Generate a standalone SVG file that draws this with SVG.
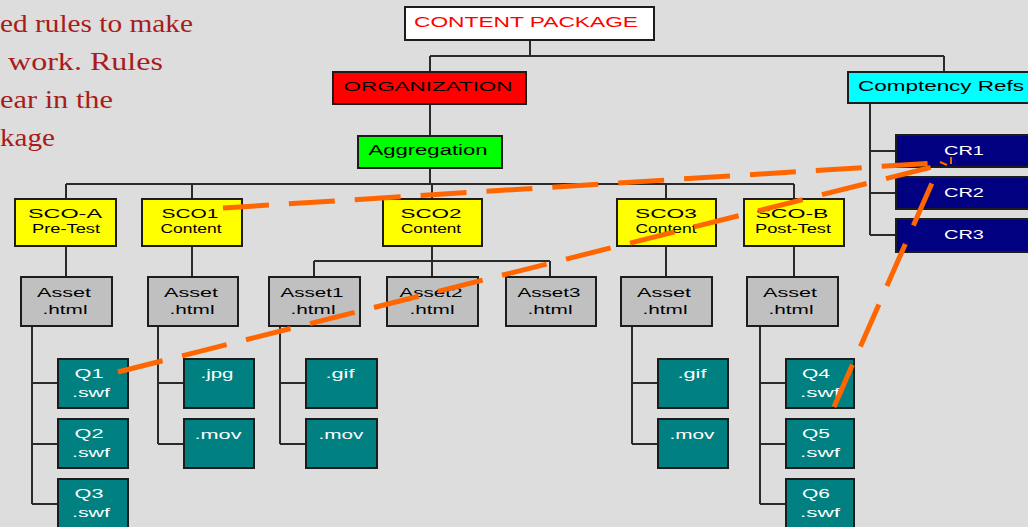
<svg xmlns="http://www.w3.org/2000/svg" width="1028" height="527" viewBox="0 0 1028 527">
  <style>
    .box { stroke: #1c1c1c; stroke-width: 2; }
    .wire { stroke: #2a2a2a; stroke-width: 2; fill: none; }
    .link { stroke: #ff6600; stroke-width: 5; stroke-dasharray: 46 20; fill: none; }
    .t { font-family: "Liberation Sans", Arial, sans-serif; text-anchor: middle; }
    .dark { fill: #000; }
    .light { fill: #fff; }
    .note { font-family: "Liberation Serif", "Times New Roman", serif; font-size: 26px; fill: #a81c1c; }
    .yellow { fill: #ffff00; }
    .grey { fill: #c0c0c0; }
    .teal { fill: #008080; }
    .navy { fill: #000080; }
  </style>

  <rect width="1028" height="527" fill="#dddddd"/>

  <!-- notes text, partly off the left edge -->
  <g id="notes" class="note">
    <text x="0" y="32" textLength="193" lengthAdjust="spacingAndGlyphs">ed rules to make</text>
    <text x="8" y="70" textLength="155" lengthAdjust="spacingAndGlyphs">work.  Rules</text>
    <text x="0" y="108" textLength="113" lengthAdjust="spacingAndGlyphs">ear in the</text>
    <text x="0" y="146" textLength="55" lengthAdjust="spacingAndGlyphs">kage</text>
  </g>

  <!-- tree connectors -->
  <g id="connectors" class="wire">
    <path d="M530,40 V56 M430,56 H944 M430,56 V72 M944,56 V72"/>
    <path d="M430,104 V136"/>
    <path d="M430,168 V184 M66,184 H794 M66,184 V199 M192,184 V199 M432,184 V199 M666,184 V199 M794,184 V199"/>
    <path d="M66,246 V277 M192,246 V277 M432,246 V277 M314,261 H550 M314,261 V277 M550,261 V277 M666,246 V277 M794,246 V277"/>
    <path d="M32,326 V504 M32,383 H58 M32,444 H58 M32,504 H58"/>
    <path d="M158,326 V444 M158,383 H184 M158,444 H184"/>
    <path d="M280,326 V444 M280,383 H306 M280,444 H306"/>
    <path d="M632,326 V444 M632,383 H658 M632,444 H658"/>
    <path d="M760,326 V504 M760,383 H786 M760,444 H786 M760,504 H786"/>
    <path d="M870,103 V235 M870,151 H896 M870,193 H896 M870,235 H896"/>
  </g>

  <g id="content-package">
    <rect class="box" x="405" y="7" width="249" height="33" fill="#fff"/>
    <text class="t" x="526" y="27" font-size="14" fill="#ff0000" textLength="224" lengthAdjust="spacingAndGlyphs">CONTENT PACKAGE</text>
  </g>
  <g id="organization">
    <rect class="box" x="333" y="72" width="193" height="32" fill="#ff0000"/>
    <text class="t dark" x="428" y="91" font-size="13" textLength="169" lengthAdjust="spacingAndGlyphs">ORGANIZATION</text>
  </g>
  <g id="aggregation">
    <rect class="box" x="358" y="136" width="144" height="32" fill="#00ff00"/>
    <text class="t dark" x="428" y="155" font-size="14" textLength="119" lengthAdjust="spacingAndGlyphs">Aggregation</text>
  </g>
  <g id="competency-refs">
    <rect class="box" x="848" y="72" width="200" height="31" fill="#00ffff"/>
    <text class="dark" x="858" y="91" font-family="Liberation Sans, Arial, sans-serif" font-size="14" textLength="166" lengthAdjust="spacingAndGlyphs">Comptency Refs</text>
  </g>
  <g id="cr1">
    <rect class="box navy" x="896" y="135" width="150" height="32"/>
    <text class="t light" x="964" y="155" font-size="13" textLength="40" lengthAdjust="spacingAndGlyphs">CR1</text>
  </g>
  <g id="cr2">
    <rect class="box navy" x="896" y="177" width="150" height="32"/>
    <text class="t light" x="964" y="197" font-size="13" textLength="40" lengthAdjust="spacingAndGlyphs">CR2</text>
  </g>
  <g id="cr3">
    <rect class="box navy" x="896" y="219" width="150" height="33"/>
    <text class="t light" x="964" y="239" font-size="13" textLength="40" lengthAdjust="spacingAndGlyphs">CR3</text>
  </g>

  <!-- SCOs -->
  <g id="sco-a">
    <rect class="box yellow" x="15" y="199" width="101" height="47"/>
    <text class="t dark" x="65" y="218" font-size="12" textLength="74" lengthAdjust="spacingAndGlyphs">SCO-A</text>
    <text class="t dark" x="66" y="233" font-size="12" textLength="68" lengthAdjust="spacingAndGlyphs">Pre-Test</text>
  </g>
  <g id="sco1">
    <rect class="box yellow" x="142" y="199" width="100" height="47"/>
    <text class="t dark" x="190" y="218" font-size="12" textLength="57" lengthAdjust="spacingAndGlyphs">SCO1</text>
    <text class="t dark" x="191" y="233" font-size="12" textLength="61" lengthAdjust="spacingAndGlyphs">Content</text>
  </g>
  <g id="sco2">
    <rect class="box yellow" x="383" y="199" width="99" height="47"/>
    <text class="t dark" x="431" y="218" font-size="12" textLength="61" lengthAdjust="spacingAndGlyphs">SCO2</text>
    <text class="t dark" x="431" y="233" font-size="12" textLength="60" lengthAdjust="spacingAndGlyphs">Content</text>
  </g>
  <g id="sco3">
    <rect class="box yellow" x="617" y="199" width="99" height="47"/>
    <text class="t dark" x="666" y="218" font-size="12" textLength="62" lengthAdjust="spacingAndGlyphs">SCO3</text>
    <text class="t dark" x="666" y="233" font-size="12" textLength="61" lengthAdjust="spacingAndGlyphs">Content</text>
  </g>
  <g id="sco-b">
    <rect class="box yellow" x="744" y="199" width="100" height="47"/>
    <text class="t dark" x="792" y="218" font-size="12" textLength="73" lengthAdjust="spacingAndGlyphs">SCO-B</text>
    <text class="t dark" x="793" y="233" font-size="12" textLength="76" lengthAdjust="spacingAndGlyphs">Post-Test</text>
  </g>

  <!-- assets -->
  <g id="asset-a">
    <rect class="box grey" x="21" y="277" width="91" height="49"/>
    <text class="t dark" x="64" y="297" font-size="13" textLength="54" lengthAdjust="spacingAndGlyphs">Asset</text>
    <text class="t dark" x="65" y="314" font-size="13" textLength="45" lengthAdjust="spacingAndGlyphs">.html</text>
  </g>
  <g id="asset-sco1">
    <rect class="box grey" x="148" y="277" width="90" height="49"/>
    <text class="t dark" x="191" y="297" font-size="13" textLength="54" lengthAdjust="spacingAndGlyphs">Asset</text>
    <text class="t dark" x="192" y="314" font-size="13" textLength="45" lengthAdjust="spacingAndGlyphs">.html</text>
  </g>
  <g id="asset1">
    <rect class="box grey" x="269" y="277" width="91" height="49"/>
    <text class="t dark" x="312" y="297" font-size="13" textLength="63" lengthAdjust="spacingAndGlyphs">Asset1</text>
    <text class="t dark" x="313" y="314" font-size="13" textLength="45" lengthAdjust="spacingAndGlyphs">.html</text>
  </g>
  <g id="asset2">
    <rect class="box grey" x="387" y="277" width="91" height="49"/>
    <text class="t dark" x="431" y="297" font-size="13" textLength="63" lengthAdjust="spacingAndGlyphs">Asset2</text>
    <text class="t dark" x="432" y="314" font-size="13" textLength="45" lengthAdjust="spacingAndGlyphs">.html</text>
  </g>
  <g id="asset3">
    <rect class="box grey" x="506" y="277" width="90" height="49"/>
    <text class="t dark" x="549" y="297" font-size="13" textLength="63" lengthAdjust="spacingAndGlyphs">Asset3</text>
    <text class="t dark" x="550" y="314" font-size="13" textLength="45" lengthAdjust="spacingAndGlyphs">.html</text>
  </g>
  <g id="asset-sco3">
    <rect class="box grey" x="621" y="277" width="91" height="49"/>
    <text class="t dark" x="664" y="297" font-size="13" textLength="54" lengthAdjust="spacingAndGlyphs">Asset</text>
    <text class="t dark" x="665" y="314" font-size="13" textLength="45" lengthAdjust="spacingAndGlyphs">.html</text>
  </g>
  <g id="asset-b">
    <rect class="box grey" x="747" y="277" width="91" height="49"/>
    <text class="t dark" x="790" y="297" font-size="13" textLength="54" lengthAdjust="spacingAndGlyphs">Asset</text>
    <text class="t dark" x="791" y="314" font-size="13" textLength="45" lengthAdjust="spacingAndGlyphs">.html</text>
  </g>

  <!-- media files -->
  <g id="q1">
    <rect class="box teal" x="58" y="359" width="70" height="49"/>
    <text class="t light" x="89" y="378" font-size="12" textLength="29" lengthAdjust="spacingAndGlyphs">Q1</text>
    <text class="t light" x="91" y="397" font-size="12" textLength="38" lengthAdjust="spacingAndGlyphs">.swf</text>
  </g>
  <g id="q2">
    <rect class="box teal" x="58" y="419" width="70" height="49"/>
    <text class="t light" x="89" y="438" font-size="12" textLength="29" lengthAdjust="spacingAndGlyphs">Q2</text>
    <text class="t light" x="91" y="457" font-size="12" textLength="38" lengthAdjust="spacingAndGlyphs">.swf</text>
  </g>
  <g id="q3">
    <rect class="box teal" x="58" y="479" width="70" height="52"/>
    <text class="t light" x="89" y="498" font-size="12" textLength="29" lengthAdjust="spacingAndGlyphs">Q3</text>
    <text class="t light" x="91" y="517" font-size="12" textLength="38" lengthAdjust="spacingAndGlyphs">.swf</text>
  </g>
  <g id="jpg">
    <rect class="box teal" x="184" y="359" width="70" height="49"/>
    <text class="t light" x="217" y="378" font-size="12" textLength="33" lengthAdjust="spacingAndGlyphs">.jpg</text>
  </g>
  <g id="mov-sco1">
    <rect class="box teal" x="184" y="419" width="70" height="49"/>
    <text class="t light" x="218" y="439" font-size="12" textLength="47" lengthAdjust="spacingAndGlyphs">.mov</text>
  </g>
  <g id="gif-asset1">
    <rect class="box teal" x="306" y="359" width="71" height="49"/>
    <text class="t light" x="340" y="378" font-size="12" textLength="29" lengthAdjust="spacingAndGlyphs">.gif</text>
  </g>
  <g id="mov-asset1">
    <rect class="box teal" x="306" y="419" width="71" height="49"/>
    <text class="t light" x="341" y="439" font-size="12" textLength="45" lengthAdjust="spacingAndGlyphs">.mov</text>
  </g>
  <g id="gif-sco3">
    <rect class="box teal" x="658" y="359" width="70" height="49"/>
    <text class="t light" x="692" y="378" font-size="12" textLength="29" lengthAdjust="spacingAndGlyphs">.gif</text>
  </g>
  <g id="mov-sco3">
    <rect class="box teal" x="658" y="419" width="70" height="49"/>
    <text class="t light" x="692" y="439" font-size="12" textLength="45" lengthAdjust="spacingAndGlyphs">.mov</text>
  </g>
  <g id="q4">
    <rect class="box teal" x="786" y="359" width="68" height="49"/>
    <text class="t light" x="816" y="378" font-size="12" textLength="28" lengthAdjust="spacingAndGlyphs">Q4</text>
    <text class="t light" x="820" y="397" font-size="12" textLength="40" lengthAdjust="spacingAndGlyphs">.swf</text>
  </g>
  <g id="q5">
    <rect class="box teal" x="786" y="419" width="68" height="49"/>
    <text class="t light" x="816" y="438" font-size="12" textLength="28" lengthAdjust="spacingAndGlyphs">Q5</text>
    <text class="t light" x="820" y="457" font-size="12" textLength="40" lengthAdjust="spacingAndGlyphs">.swf</text>
  </g>
  <g id="q6">
    <rect class="box teal" x="786" y="479" width="68" height="52"/>
    <text class="t light" x="816" y="498" font-size="12" textLength="28" lengthAdjust="spacingAndGlyphs">Q6</text>
    <text class="t light" x="820" y="517" font-size="12" textLength="40" lengthAdjust="spacingAndGlyphs">.swf</text>
  </g>

  <!-- competency reference links -->
  <g id="competency-links">
    <path class="link" d="M223,208 L935,163"/>
    <path class="link" d="M118,372 L932,167"/>
    <path class="link" d="M834,407 L932,183"/>
    <path d="M940,162 L947,165 M951,157 V164" stroke="#ff6600" stroke-width="2" fill="none"/>
  </g>
</svg>
